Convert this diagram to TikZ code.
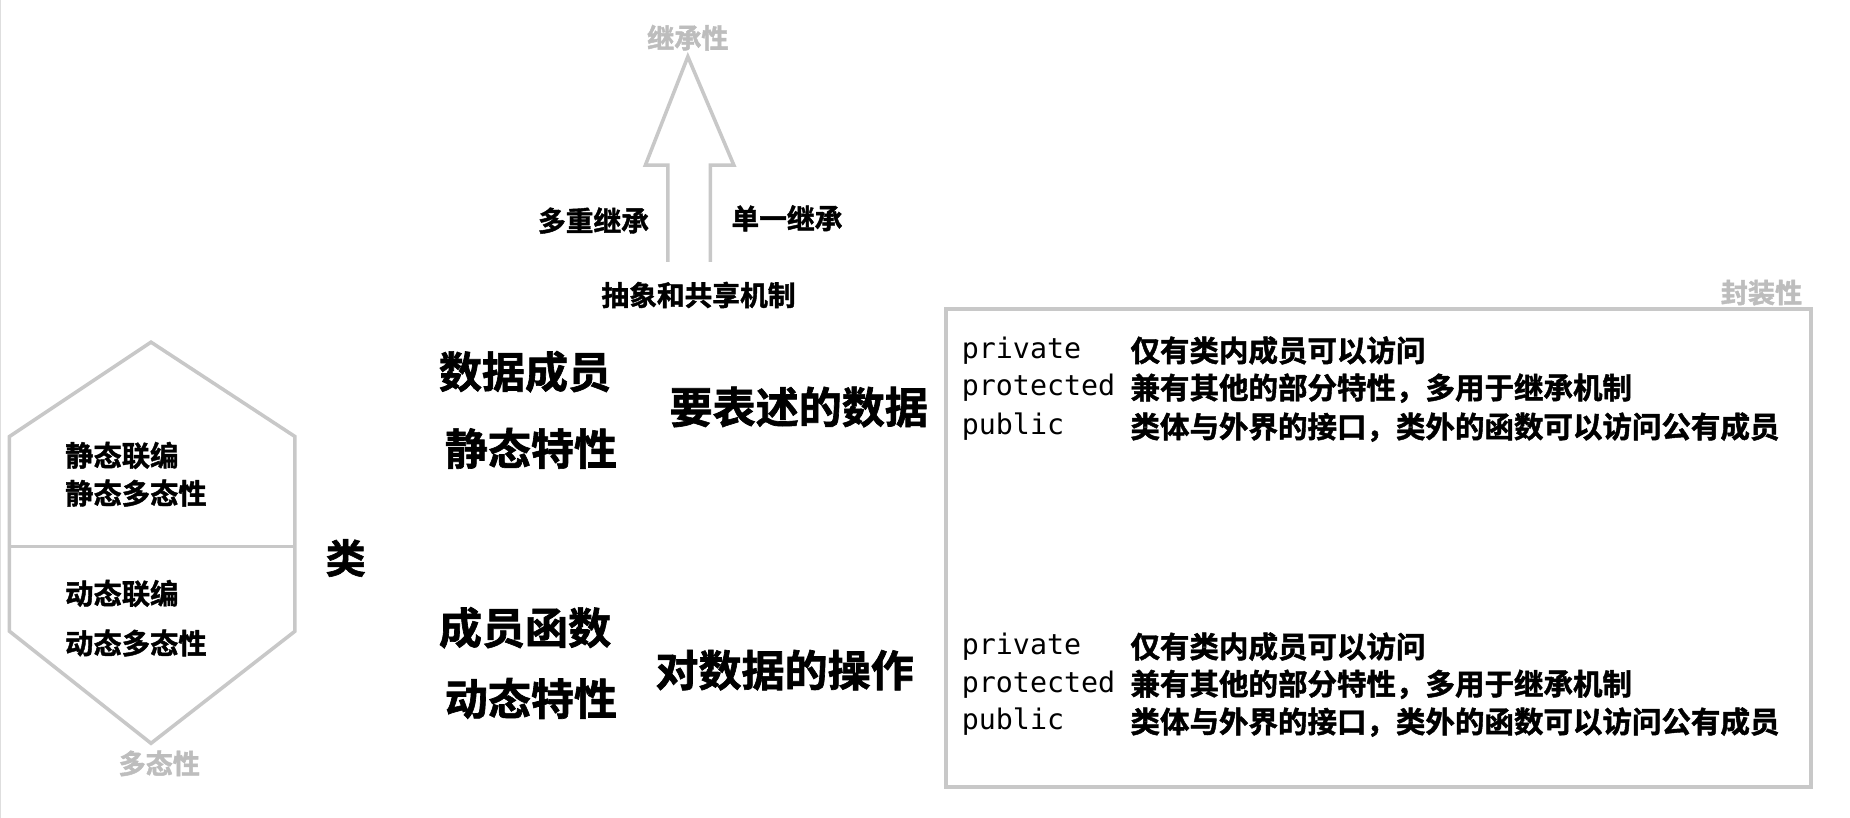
\documentclass[tikz,border=0pt]{standalone}
\usepackage{fontspec}
\setmainfont{Noto Sans CJK SC}[BoldFont={Noto Sans CJK SC Bold}, BoldFeatures={FakeBold=1.5}]
\newfontfamily\monof{DejaVu Sans Mono}
\definecolor{lg}{HTML}{C8C8C8}
\definecolor{lgt}{HTML}{BDBDBD}
\tikzset{
  shp/.style={draw=lg, line width=3pt, line join=miter},
  graytxt/.style={text=lgt, font=\bfseries\fontsize{23}{26}\selectfont, inner sep=0pt},
  midtxt/.style={font=\bfseries\fontsize{23.5}{26}\selectfont, inner sep=0pt},
  bigtxt/.style={font=\bfseries\fontsize{36.5}{40}\selectfont, inner sep=0pt},
  hextxt/.style={font=\bfseries\fontsize{24}{26}\selectfont, inner sep=0pt, anchor=west},
  codetxt/.style={font=\monof\fontsize{24}{26}\selectfont, inner sep=0pt, anchor=west},
  desctxt/.style={font=\bfseries\fontsize{25}{27}\selectfont, inner sep=0pt, anchor=west}
}
\begin{document}
\begin{tikzpicture}[x=1pt,y=-1pt]
\useasboundingbox[fill=white] (0,0) rectangle (1568,693);
\draw[lg!60, line width=1pt] (0.5,0) -- (0.5,693);
% inheritance arrow
\draw[shp] (566,222) -- (566,140) -- (547,140) -- (583,48) -- (622,140) -- (602,140) -- (602,222);
\node[graytxt] (jcx) at (583,32) {继承性};
\node[midtxt] (dcjc) at (503,187) {多重继承};
\node[midtxt] (dyjc) at (667,185) {单一继承};
\node[midtxt] (cxgx) at (592,250) {抽象和共享机制};
% encapsulation box
\node[graytxt] (fzx) at (1493,248) {封装性};
\draw[shp] (802,262) rectangle (1535,667);
% polymorphism hexagon
\draw[shp] (8,370) -- (128,290) -- (250,370) -- (250,535) -- (128,630) -- (8,535) -- cycle;
\draw[shp] (8,463) -- (248,463);
\node[hextxt] (jtlb) at (55,386) {静态联编};
\node[hextxt] (jtdt) at (55,418) {静态多态性};
\node[hextxt] (dtlb) at (55,503) {动态联编};
\node[hextxt] (dtdt) at (55,545) {动态多态性};
\node[graytxt] (dtx) at (135,647) {多态性};
% class
\node[font=\bfseries\fontsize{34}{38}\selectfont, inner sep=0pt] (lei) at (293,473) {类};
\node[bigtxt] (sjcy) at (445,315) {数据成员};
\node[bigtxt] (jttx) at (450,380) {静态特性};
\node[bigtxt] (ybs) at (677,345) {要表述的数据};
\node[bigtxt] (cyhs) at (445,532) {成员函数};
\node[bigtxt] (dttx) at (450,592) {动态特性};
\node[bigtxt] (dsj) at (665,568) {对数据的操作};
% access rows (upper)
\node[codetxt] (pv1) at (815,297) {private};
\node[codetxt] (pt1) at (815,329) {protected};
\node[codetxt] (pb1) at (815,362) {public};
\node[desctxt] (dv1) at (958,297) {仅有类内成员可以访问};
\node[desctxt] (dt1) at (958,329) {兼有其他的部分特性，多用于继承机制};
\node[desctxt] (db1) at (958,362) {类体与外界的接口，类外的函数可以访问公有成员};
% access rows (lower)
\node[codetxt] (pv2) at (815,548) {private};
\node[codetxt] (pt2) at (815,580) {protected};
\node[codetxt] (pb2) at (815,612) {public};
\node[desctxt] (dv2) at (958,548) {仅有类内成员可以访问};
\node[desctxt] (dt2) at (958,580) {兼有其他的部分特性，多用于继承机制};
\node[desctxt] (db2) at (958,612) {类体与外界的接口，类外的函数可以访问公有成员};
\end{tikzpicture}
\end{document}
